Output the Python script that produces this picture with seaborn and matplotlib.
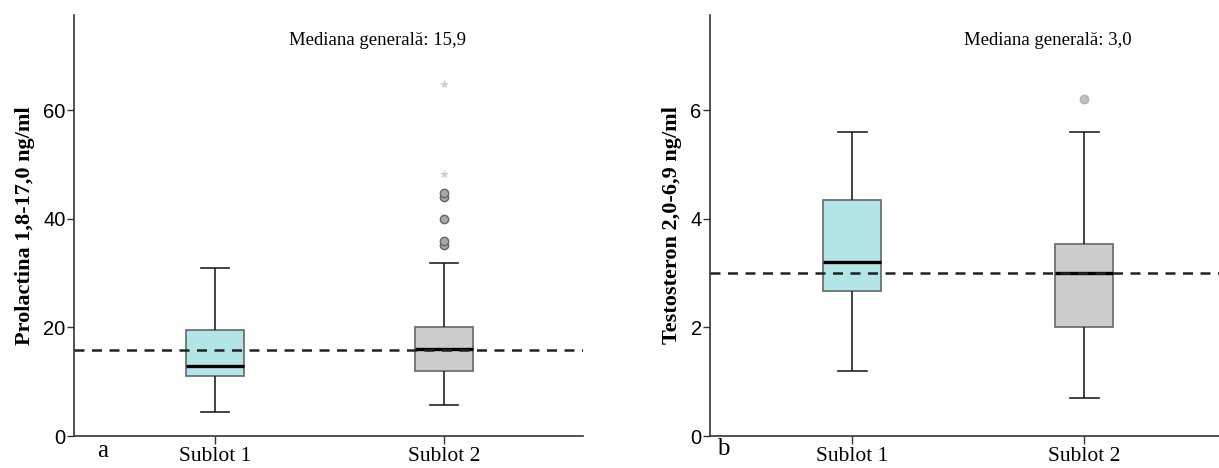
import pandas as pd
import matplotlib
matplotlib.use('Agg')
import matplotlib.pyplot as plt
import seaborn as sns

grupuri = ['Sublot 1', 'Sublot 2']
culori = {'Sublot 1': '#b3e5e6', 'Sublot 2': '#cccccc'}

# min, Q1, mediana, Q3, max
prl_s1 = [4.4, 11.1, 12.9, 19.5, 31.0]
prl_s2 = [5.7, 11.9, 16.0, 20.1, 31.8]
prl_cerc = [35.2, 35.9, 40.0, 44.0, 44.7]
prl_stea = [48.2, 64.8]
prl_mediana = 15.9

tst_s1 = [1.2, 2.67, 3.2, 4.34, 5.6]
tst_s2 = [0.7, 2.0, 3.0, 3.54, 5.6]
tst_cerc = [6.2]
tst_stea = []
tst_mediana = 3.0

SERIF = 'Liberation Serif'
SANS = 'Liberation Sans'


def panou(ax, s1, s2, cerc, stea, mediana, ylim, ticks, xlim, eticheta, lx, tx, cerc_col):
    df = pd.DataFrame({'grup': ['Sublot 1'] * len(s1) + ['Sublot 2'] * len(s2),
                       'val': s1 + s2})
    sns.boxplot(data=df, x='grup', y='val', hue='grup', order=grupuri, palette=culori,
                saturation=1, width=0.25, whis=(0, 100), showfliers=False, linewidth=1.2,
                linecolor='#222222', boxprops=dict(edgecolor='#666666'),
                medianprops=dict(color='black', lw=2.4), legend=False, ax=ax)
    if cerc:
        sns.stripplot(x=['Sublot 2'] * len(cerc), y=cerc, order=grupuri, jitter=False,
                      marker='o', color=cerc_col[0], edgecolor=cerc_col[1], linewidth=1,
                      size=6, ax=ax, zorder=4)
    if stea:
        sns.stripplot(x=['Sublot 2'] * len(stea), y=stea, order=grupuri, jitter=False,
                      marker='*', color='#d0d0d0', linewidth=0, size=7, ax=ax, zorder=4)
    ax.axhline(mediana, ls=(0, (4, 3)), color='#222222', lw=1.8, zorder=5)
    ax.text(tx, 0.94, 'Mediana generală: ' + f'{mediana:.1f}'.replace('.', ','),
            transform=ax.transAxes, ha='center', va='center', fontsize=13.5, family=SERIF)

    ax.set_xlim(*xlim)
    ax.set_ylim(*ylim)
    ax.set_yticks(ticks)
    ax.set_xticks([0, 1])
    ax.set_xticklabels(grupuri, family=SERIF, fontsize=15.5)
    for t in ax.get_yticklabels():
        t.set_family(SANS)
    ax.tick_params(axis='y', length=5, width=1, color='#333333', labelsize=14.5, pad=1)
    ax.tick_params(axis='x', length=6, width=1, color='#333333', pad=2)
    ax.set_xlabel('')
    ax.set_ylabel(eticheta, fontsize=16, fontweight='bold', family=SERIF)
    ax.yaxis.set_label_coords(lx, 0.5)
    sns.despine(ax=ax)
    for s in ['left', 'bottom']:
        ax.spines[s].set_color('#333333')
        ax.spines[s].set_linewidth(1.2)


fig = plt.figure(figsize=(12.19, 4.68), dpi=100)
ax1 = fig.add_axes([74 / 1219, 32 / 468, 509 / 1219, 421 / 468])
ax2 = fig.add_axes([710 / 1219, 32 / 468, 509 / 1219, 421 / 468])

panou(ax1, prl_s1, prl_s2, prl_cerc, prl_stea, prl_mediana, (0, 77.5), [0, 20, 40, 60],
      (-0.616, 1.607), 'Prolactina 1,8-17,0 ng/ml', -0.076, 0.597, ('#a8a8a8', '#666666'))
panou(ax2, tst_s1, tst_s2, tst_cerc, tst_stea, tst_mediana, (0, 7.75), [0, 2, 4, 6],
      (-0.612, 1.58), 'Testosteron 2,0-6,9 ng/ml', -0.055, 0.664, ('#c0c0c0', '#b0b0b0'))

fig.text(103 / 1219, 1 - 451 / 468, 'a', fontsize=18, family=SERIF, ha='center', va='center')
fig.text(723 / 1219, 1 - 449 / 468, 'b', fontsize=18, family=SERIF, ha='center', va='center')

fig.savefig('out.png', dpi=100)
